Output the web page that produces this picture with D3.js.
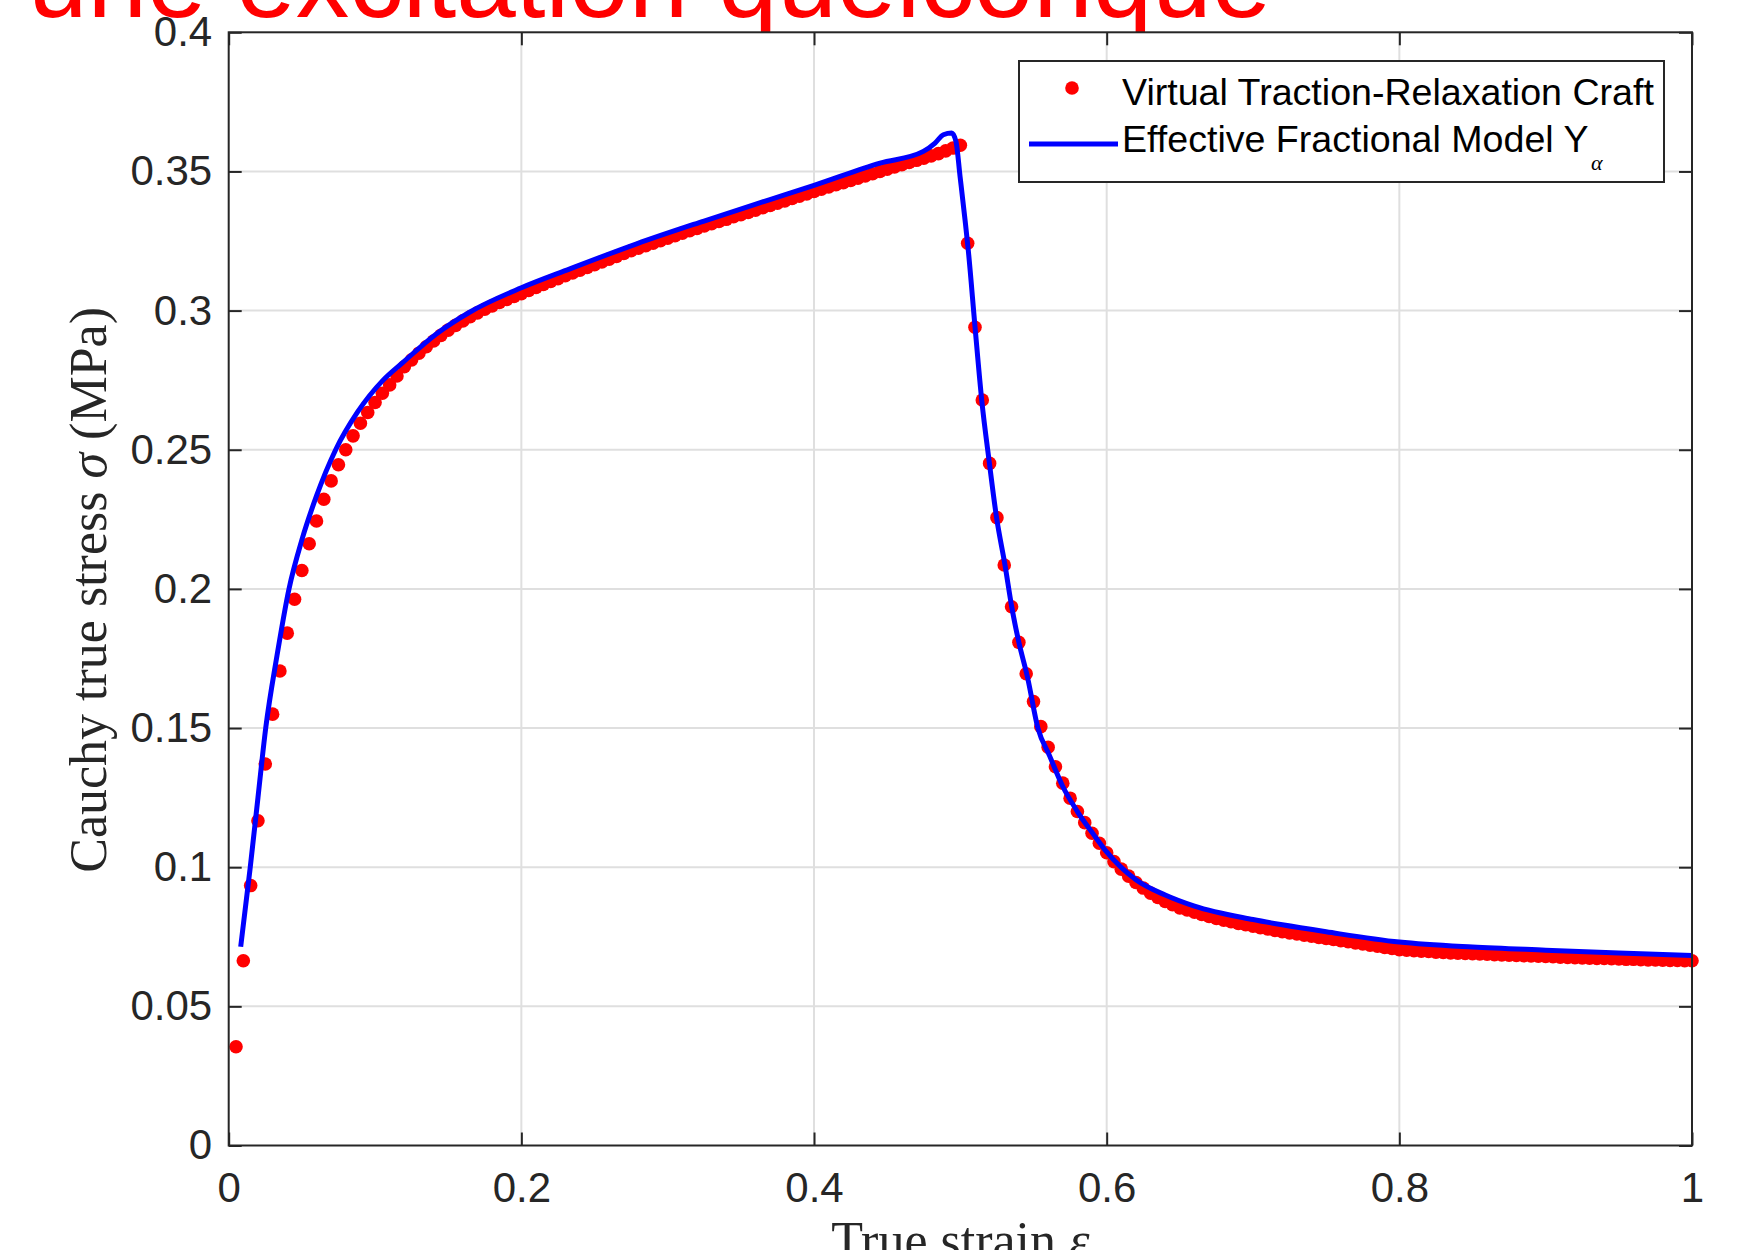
<!DOCTYPE html>
<html>
<head>
<meta charset="utf-8">
<script src="https://cdn.jsdelivr.net/npm/d3@7"></script>
<style>
  html, body { margin: 0; padding: 0; background: #ffffff; }
  svg { display: block; }
</style>
</head>
<body>
<svg id="chart" width="1749" height="1250"></svg>
<script>
// ---------------- DATA ----------------
const titleText = "une excitation quelconque";
const xLabelText = "True strain ";
const yLabelText = "Cauchy true stress ";
const seriesNames = ["Virtual Traction-Relaxation Craft", "Effective Fractional Model Y"];

const xTickValues = [0, 0.2, 0.4, 0.6, 0.8, 1];
const xTickLabels = ["0", "0.2", "0.4", "0.6", "0.8", "1"];
const yTickValues = [0, 0.05, 0.1, 0.15, 0.2, 0.25, 0.3, 0.35, 0.4];
const yTickLabels = ["0", "0.05", "0.1", "0.15", "0.2", "0.25", "0.3", "0.35", "0.4"];

// Virtual traction-relaxation "craft" (red dots)
const craftStrain = [
  0.005,0.010,0.015,0.020,0.025,0.030,0.035,0.040,0.045,0.050,
  0.055,0.060,0.065,0.070,0.075,0.080,0.085,0.090,0.095,0.100,
  0.105,0.110,0.115,0.120,0.125,0.130,0.135,0.140,0.145,0.150,
  0.155,0.160,0.165,0.170,0.175,0.180,0.185,0.190,0.195,0.200,
  0.205,0.210,0.215,0.220,0.225,0.230,0.235,0.240,0.245,0.250,
  0.255,0.260,0.265,0.270,0.275,0.280,0.285,0.290,0.295,0.300,
  0.305,0.310,0.315,0.320,0.325,0.330,0.335,0.340,0.345,0.350,
  0.355,0.360,0.365,0.370,0.375,0.380,0.385,0.390,0.395,0.400,
  0.405,0.410,0.415,0.420,0.425,0.430,0.435,0.440,0.445,0.450,
  0.455,0.460,0.465,0.470,0.475,0.480,0.485,0.490,0.495,0.500,
  0.505,0.510,0.515,0.520,0.525,0.530,0.535,0.540,0.545,0.550,
  0.555,0.560,0.565,0.570,0.575,0.580,0.585,0.590,0.595,0.600,
  0.605,0.610,0.615,0.620,0.625,0.630,0.635,0.640,0.645,0.650,
  0.655,0.660,0.665,0.670,0.675,0.680,0.685,0.690,0.695,0.700,
  0.705,0.710,0.715,0.720,0.725,0.730,0.735,0.740,0.745,0.750,
  0.755,0.760,0.765,0.770,0.775,0.780,0.785,0.790,0.795,0.800,
  0.805,0.810,0.815,0.820,0.825,0.830,0.835,0.840,0.845,0.850,
  0.855,0.860,0.865,0.870,0.875,0.880,0.885,0.890,0.895,0.900,
  0.905,0.910,0.915,0.920,0.925,0.930,0.935,0.940,0.945,0.950,
  0.955,0.960,0.965,0.970,0.975,0.980,0.985,0.990,0.995,1.000
];
const craftStress = [
  0.0355,0.0664,0.0934,0.1167,0.1371,0.1550,0.1705,0.1841,0.1963,0.2066,
  0.2162,0.2244,0.2322,0.2388,0.2446,0.2500,0.2550,0.2595,0.2634,0.2670,
  0.2703,0.2733,0.2765,0.2798,0.2823,0.2847,0.2870,0.2891,0.2911,0.2930,
  0.2947,0.2963,0.2978,0.2992,0.3005,0.3017,0.3029,0.3040,0.3051,0.3061,
  0.3072,0.3083,0.3094,0.3105,0.3115,0.3125,0.3135,0.3145,0.3155,0.3165,
  0.3175,0.3185,0.3195,0.3205,0.3215,0.3224,0.3233,0.3242,0.3251,0.3260,
  0.3269,0.3278,0.3287,0.3295,0.3304,0.3312,0.3320,0.3328,0.3337,0.3345,
  0.3353,0.3361,0.3370,0.3378,0.3386,0.3394,0.3403,0.3411,0.3419,0.3428,
  0.3436,0.3444,0.3452,0.3460,0.3468,0.3476,0.3484,0.3492,0.3500,0.3508,
  0.3516,0.3524,0.3532,0.3540,0.3548,0.3556,0.3564,0.3574,0.3584,0.3594,
  0.3242,0.2940,0.2679,0.2451,0.2256,0.2086,0.1936,0.1808,0.1695,0.1595,
  0.1505,0.1431,0.1361,0.1302,0.1248,0.1200,0.1160,0.1122,0.1086,0.1052,
  0.1020,0.0993,0.0968,0.0945,0.0925,0.0907,0.0891,0.0877,0.0865,0.0854,
  0.0846,0.0838,0.0830,0.0823,0.0816,0.0810,0.0804,0.0798,0.0793,0.0788,
  0.0783,0.0778,0.0773,0.0768,0.0764,0.0760,0.0756,0.0752,0.0748,0.0744,
  0.0740,0.0736,0.0732,0.0728,0.0724,0.0720,0.0716,0.0712,0.0708,0.0704,
  0.0702,0.0700,0.0698,0.0697,0.0695,0.0694,0.0692,0.0691,0.0690,0.0689,
  0.0688,0.0687,0.0686,0.0685,0.0684,0.0683,0.0682,0.0681,0.0680,0.0679,
  0.0678,0.0677,0.0676,0.0675,0.0674,0.0673,0.0672,0.0672,0.0671,0.0670,
  0.0669,0.0669,0.0668,0.0667,0.0667,0.0666,0.0665,0.0665,0.0664,0.0664
];

// Effective fractional model (blue line)
const modelStrain = [
  0.0082,0.0146,0.0200,0.0253,0.0330,0.0412,0.0500,0.0600,0.0731,0.0880,
  0.1057,0.1193,0.1421,0.1649,0.2000,0.2332,0.2788,0.3243,0.3699,0.4000,
  0.4451,0.4747,0.4827,0.4884,0.4941,0.4970,0.4998,0.5032,0.5054,0.5100,
  0.5146,0.5198,0.5248,0.5305,0.5351,0.5396,0.5460,0.5530,0.5610,0.5700,
  0.5800,0.5910,0.6000,0.6200,0.6400,0.6600,0.7000,0.7200,0.7500,0.8000,
  0.8500,0.9000,0.9500,1.0000
];
const modelStress = [
  0.0714,0.0994,0.1250,0.1500,0.1760,0.2000,0.2176,0.2334,0.2500,0.2635,
  0.2751,0.2815,0.2917,0.2995,0.3082,0.3150,0.3240,0.3321,0.3399,0.3450,
  0.3530,0.3572,0.3602,0.3632,0.3638,0.3608,0.3482,0.3326,0.3218,0.2943,
  0.2679,0.2454,0.2254,0.2086,0.1936,0.1817,0.1680,0.1500,0.1400,0.1290,
  0.1200,0.1118,0.1055,0.0955,0.0900,0.0860,0.0812,0.0793,0.0768,0.0731,
  0.0713,0.0702,0.0692,0.0683
];

// ---------------- LAYOUT ----------------
const W = 1749, H = 1250;
const plot = { left: 228.7, right: 1692, top: 32.3, bottom: 1145.5 };
const axisColor = "#262626";
const gridColor = "#dfdfdf";
const sansFont = "'Liberation Sans', Arial, Helvetica, sans-serif";
const serifFont = "'Liberation Serif', 'Times New Roman', Times, serif";
const tickFont = 42;
const legendFont = 37.6;
const labelFont = 52;
const tickLen = 13;

const svg = d3.select("#chart");
svg.append("rect").attr("width", W).attr("height", H).attr("fill", "#ffffff");

const x = d3.scaleLinear().domain([0, 1]).range([plot.left, plot.right]);
const y = d3.scaleLinear().domain([0, 0.4]).range([plot.bottom, plot.top]);

// Title (partly cropped at top)
svg.append("text")
  .attr("x", 28).attr("y", 16.7)
  .attr("font-family", sansFont)
  .attr("font-size", 107)
  .attr("fill", "#ff0000")
  .text(titleText);

// Axes background
svg.append("rect")
  .attr("x", plot.left).attr("y", plot.top)
  .attr("width", plot.right - plot.left).attr("height", plot.bottom - plot.top)
  .attr("fill", "#ffffff");

// Grid
const grid = svg.append("g");
grid.selectAll("line.gx").data(xTickValues.slice(1, -1)).enter().append("line")
  .attr("x1", d => x(d)).attr("x2", d => x(d))
  .attr("y1", plot.top).attr("y2", plot.bottom)
  .attr("stroke", gridColor).attr("stroke-width", 2);
grid.selectAll("line.gy").data(yTickValues.slice(1, -1)).enter().append("line")
  .attr("x1", plot.left).attr("x2", plot.right)
  .attr("y1", d => y(d)).attr("y2", d => y(d))
  .attr("stroke", gridColor).attr("stroke-width", 2);

// Data: red dots
const craft = craftStrain.map((s, i) => ({ s, v: craftStress[i] }));
svg.append("g").selectAll("circle").data(craft).enter().append("circle")
  .attr("cx", d => x(d.s)).attr("cy", d => y(d.v))
  .attr("r", 6.8).attr("fill", "#ff0000");

// Data: blue line
const model = modelStrain.map((s, i) => ({ s, v: modelStress[i] }));
svg.append("path").datum(model)
  .attr("d", d3.line().curve(d3.curveMonotoneX).x(d => x(d.s)).y(d => y(d.v)))
  .attr("fill", "none").attr("stroke", "#0000ff")
  .attr("stroke-width", 5).attr("stroke-linejoin", "round");

// Axes
function styleAxis(g, showLabels) {
  g.select(".domain").remove();
  g.selectAll(".tick line").attr("stroke", axisColor).attr("stroke-width", 2);
  g.selectAll(".tick text")
    .attr("fill", axisColor)
    .attr("font-family", sansFont)
    .attr("font-size", tickFont);
  if (!showLabels) g.selectAll(".tick text").remove();
}
const xAxisB = d3.axisBottom(x).tickValues(xTickValues)
  .tickFormat((d, i) => xTickLabels[i]).tickSize(-tickLen).tickSizeOuter(0).tickPadding(27);
const xAxisT = d3.axisTop(x).tickValues(xTickValues).tickSize(-tickLen).tickSizeOuter(0);
const yAxisL = d3.axisLeft(y).tickValues(yTickValues)
  .tickFormat((d, i) => yTickLabels[i]).tickSize(-tickLen).tickSizeOuter(0).tickPadding(16.5);
const yAxisR = d3.axisRight(y).tickValues(yTickValues).tickSize(-tickLen).tickSizeOuter(0);

svg.append("g").attr("transform", `translate(0,${plot.bottom})`).call(xAxisB)
  .call(g => styleAxis(g, true));
svg.append("g").attr("transform", `translate(0,${plot.top})`).call(xAxisT)
  .call(g => styleAxis(g, false));
svg.append("g").attr("transform", `translate(${plot.left},0)`).call(yAxisL)
  .call(g => styleAxis(g, true));
svg.append("g").attr("transform", `translate(${plot.right},0)`).call(yAxisR)
  .call(g => styleAxis(g, false));

// Box
svg.append("rect")
  .attr("x", plot.left).attr("y", plot.top)
  .attr("width", plot.right - plot.left).attr("height", plot.bottom - plot.top)
  .attr("fill", "none").attr("stroke", axisColor).attr("stroke-width", 2);

// Axis labels
const xl = svg.append("text")
  .attr("x", (plot.left + plot.right) / 2).attr("y", 1258)
  .attr("text-anchor", "middle")
  .attr("font-family", serifFont).attr("font-size", labelFont)
  .attr("fill", axisColor);
xl.append("tspan").text(xLabelText);
xl.append("tspan").attr("font-style", "italic").text("ε");

const yl = svg.append("text")
  .attr("transform", `translate(106,${(plot.top + plot.bottom) / 2 + 1}) rotate(-90)`)
  .attr("text-anchor", "middle")
  .attr("font-family", serifFont).attr("font-size", labelFont)
  .attr("fill", axisColor);
yl.append("tspan").text(yLabelText);
yl.append("tspan").attr("font-style", "italic").text("σ");
yl.append("tspan").text(" (MPa)");

// Legend
const lg = svg.append("g");
lg.append("rect")
  .attr("x", 1019).attr("y", 61).attr("width", 645).attr("height", 121)
  .attr("fill", "#ffffff").attr("stroke", axisColor).attr("stroke-width", 2);
lg.append("circle").attr("cx", 1072).attr("cy", 88).attr("r", 6.8).attr("fill", "#ff0000");
lg.append("line").attr("x1", 1029).attr("x2", 1118).attr("y1", 144).attr("y2", 144)
  .attr("stroke", "#0000ff").attr("stroke-width", 5);
lg.append("text").attr("x", 1122).attr("y", 104.5)
  .attr("font-family", sansFont).attr("font-size", legendFont).attr("fill", "#000000")
  .text(seriesNames[0]);
lg.append("text").attr("x", 1122).attr("y", 151.5)
  .attr("font-family", sansFont).attr("font-size", legendFont).attr("fill", "#000000")
  .text(seriesNames[1]);
lg.append("text").attr("x", 1591).attr("y", 170)
  .attr("font-family", serifFont).attr("font-style", "italic").attr("font-size", 22)
  .attr("fill", "#000000")
  .text("α");
</script>
</body>
</html>
